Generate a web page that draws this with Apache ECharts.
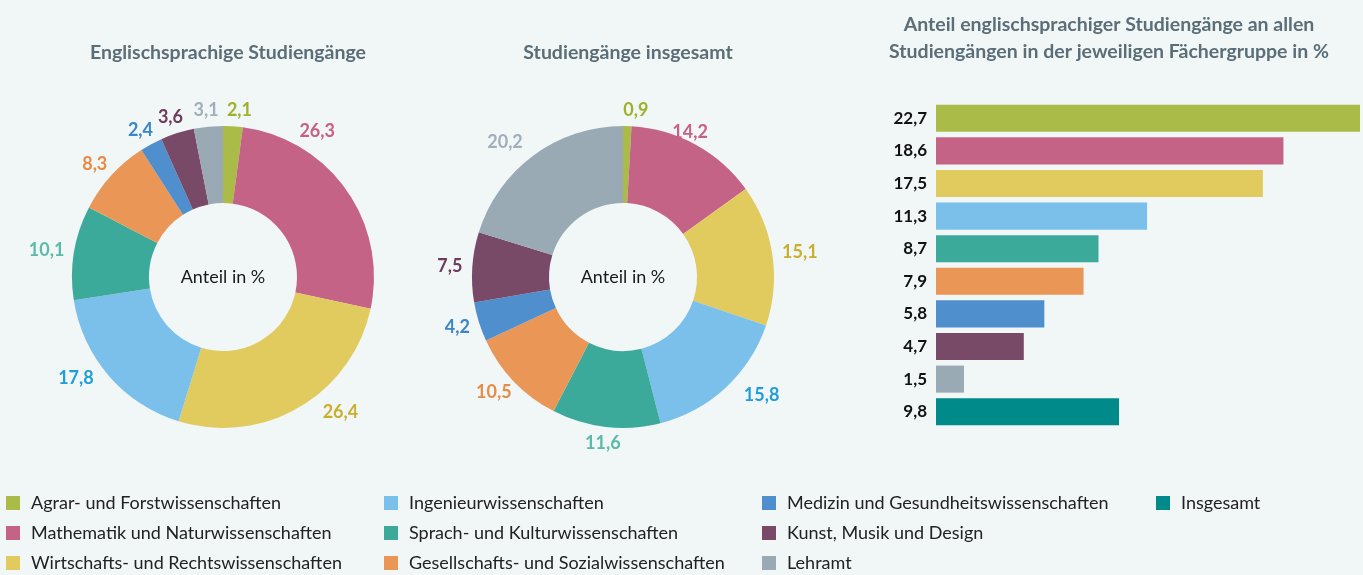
<!DOCTYPE html>
<html>
<head>
<meta charset="utf-8">
<script src="https://cdn.jsdelivr.net/npm/echarts@6/dist/echarts.min.js"></script>
<style>
  html, body { margin: 0; padding: 0; background: #f1f6f6; }
  #main { width: 1363px; height: 575px; }
</style>
</head>
<body>
<div id="main"></div>
<script>
// Fächergruppen (Reihenfolge wie im Diagramm)
var categories = [
    'Agrar- und Forstwissenschaften',
    'Mathematik und Naturwissenschaften',
    'Wirtschafts- und Rechtswissenschaften',
    'Ingenieurwissenschaften',
    'Sprach- und Kulturwissenschaften',
    'Gesellschafts- und Sozialwissenschaften',
    'Medizin und Gesundheitswissenschaften',
    'Kunst, Musik und Design',
    'Lehramt'
];

// Anteil in %
var englishShare = [2.1, 26.3, 26.4, 17.8, 10.1, 8.3, 2.4, 3.6, 3.1];
var totalShare = [0.9, 14.2, 15.1, 15.8, 11.6, 10.5, 4.2, 7.5, 20.2];

// Anteil englischsprachiger Studiengänge je Fächergruppe
var barValues = [22.7, 18.6, 17.5, 11.3, 8.7, 7.9, 5.8, 4.7, 1.5];
var totalName = 'Insgesamt';
var totalValue = 9.8;

var fillColors = ['#aabb48', '#c56387', '#e1cb5f', '#7bc0ea', '#3caa9b', '#e99656', '#4f8fce', '#794a67', '#99aab4'];
var labelColors = ['#9db22a', '#c75f87', '#c9af2e', '#1f9ed8', '#5bbaa9', '#e88b44', '#3a86c8', '#6e3b5d', '#a0afba'];
var totalColor = '#008a8a';

var fontFamily = 'Lato, "Noto Sans", sans-serif';

function fmt(v) {
    return v.toFixed(1).replace('.', ',');
}

function pieData(values) {
    return values.map(function (v, i) {
        return {
            name: categories[i],
            value: v,
            itemStyle: {color: fillColors[i]},
            label: {color: labelColors[i]}
        };
    });
}

// Label knapp außerhalb des Rings in Richtung der Segmentmitte,
// einzelne Labels leicht verschoben wie im Original
function makeLabelLayout(shift) {
    return function (p) {
        var pts = p.labelLinePoints;
        if (!pts) return {};
        var a = pts[0], e = pts[1];
        var dx = e[0] - a[0], dy = e[1] - a[1];
        var len = Math.sqrt(dx * dx + dy * dy) || 1;
        var ux = dx / len, uy = dy / len;
        var w = p.labelRect.width, h = p.labelRect.height;
        var s = shift[p.dataIndex] || [0, 0];
        return {
            x: e[0] + ux * w / 2 + s[0],
            y: e[1] + uy * h * 0.35 + s[1],
            align: 'center',
            verticalAlign: 'middle'
        };
    };
}

function donut(name, values, cx, shift) {
    return {
        name: name,
        type: 'pie',
        center: [cx, 277],
        radius: [74, 151],
        startAngle: 90,
        clockwise: true,
        avoidLabelOverlap: false,
        silent: true,
        itemStyle: {borderWidth: 0},
        label: {
            show: true,
            position: 'outside',
            fontFamily: fontFamily,
            fontSize: 18,
            fontWeight: 'bold',
            formatter: function (p) { return fmt(p.value); }
        },
        labelLine: {
            show: true,
            length: 10,
            length2: 0,
            lineStyle: {opacity: 0}
        },
        labelLayout: makeLabelLayout(shift),
        data: pieData(values)
    };
}

var titleStyle = {
    fontFamily: fontFamily,
    fontSize: 19.5,
    fontWeight: 'bold',
    color: '#5b6e78',
    lineHeight: 27
};

var legendBase = {
    orient: 'vertical',
    top: 493,
    height: 90,
    padding: 0,
    icon: 'rect',
    itemWidth: 14,
    itemHeight: 14,
    itemGap: 10,
    selectedMode: false,
    textStyle: {
        fontFamily: fontFamily,
        fontSize: 18,
        color: '#222',
        lineHeight: 20,
        padding: [0, 0, 0, 6]
    }
};

function legendCol(left, names) {
    var l = JSON.parse(JSON.stringify(legendBase));
    l.left = left;
    l.data = names;
    return l;
}

var barData = barValues.concat(['-']);
var totalData = barValues.map(function () { return '-'; }).concat([totalValue]);
var barLabels = barValues.concat([totalValue]).map(fmt);

var centerText = {
    text: 'Anteil in %',
    font: '18px ' + fontFamily,
    fill: '#1a1a1a',
    align: 'center',
    verticalAlign: 'middle'
};

var chart = echarts.init(document.getElementById('main'));

chart.setOption({
    backgroundColor: '#f1f6f6',
    animation: false,
    title: [
        {text: 'Englischsprachige Studiengänge', left: 223, top: 34, textAlign: 'center', textStyle: titleStyle},
        {text: 'Studiengänge insgesamt', left: 623, top: 34, textAlign: 'center', textStyle: titleStyle},
        {
            text: 'Anteil englischsprachiger Studiengänge an allen\nStudiengängen in der jeweiligen Fächergruppe in %',
            left: 1104, top: 6, textAlign: 'center', textStyle: titleStyle
        }
    ],
    graphic: [
        {type: 'text', x: 223, y: 277, style: centerText},
        {type: 'text', x: 623, y: 277, style: centerText}
    ],
    legend: [
        legendCol(6, categories.slice(0, 3)),
        legendCol(384, categories.slice(3, 6)),
        legendCol(762, categories.slice(6, 9)),
        legendCol(1156, [totalName])
    ],
    grid: {left: 936, right: 3, top: 102, height: 326, containLabel: false},
    xAxis: {
        type: 'value',
        min: 0,
        max: 22.7,
        show: false
    },
    yAxis: {
        type: 'category',
        inverse: true,
        data: barLabels,
        axisLine: {show: false},
        axisTick: {show: false},
        axisLabel: {
            margin: 9,
            fontFamily: fontFamily,
            fontSize: 17,
            fontWeight: 'bold',
            color: '#111'
        }
    },
    series: [
        donut('Englischsprachige Studiengänge', englishShare, 223, {0: [5, 0], 1: [-52, -49], 2: [27, -9], 3: [-12, -8]}),
        donut('Studiengänge insgesamt', totalShare, 623, {0: [8, 0], 1: [-19, 2], 3: [17, -4], 8: [-12, 0]}),
        {
            name: 'Fächergruppen',
            type: 'bar',
            silent: true,
            barCategoryGap: '17%',
            itemStyle: {
                color: function (p) { return fillColors[p.dataIndex]; }
            },
            data: barData
        },
        {
            name: totalName,
            type: 'bar',
            silent: true,
            barGap: '-100%',
            barCategoryGap: '17%',
            itemStyle: {color: totalColor},
            data: totalData
        }
    ]
});
</script>
</body>
</html>
